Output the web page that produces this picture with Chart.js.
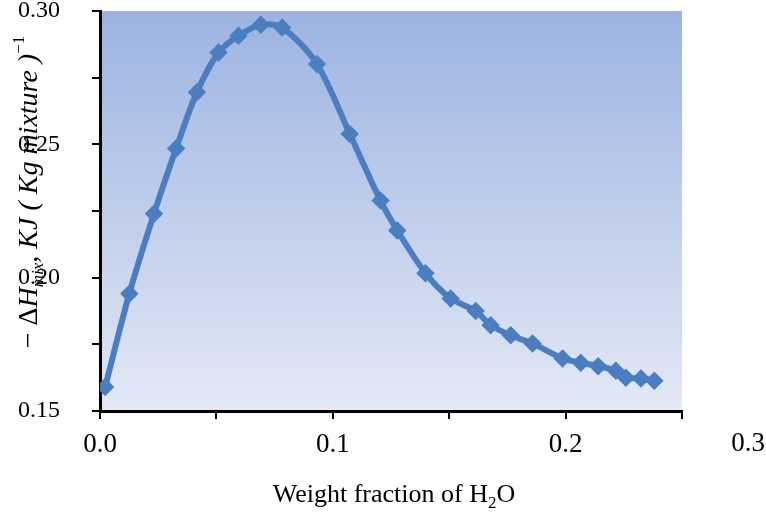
<!DOCTYPE html>
<html>
<head>
<meta charset="utf-8">
<script src="https://cdn.jsdelivr.net/npm/chart.js@4"></script>
<style>
  html, body { margin: 0; padding: 0; background: #fff; }
  #wrap { width: 766px; height: 515px; }
</style>
</head>
<body>
<div id="wrap"><canvas id="chart" width="766" height="515"></canvas></div>
<script>
// Data
const waterFraction = [0.0022, 0.0126, 0.0232, 0.0327, 0.0416, 0.0509, 0.0595, 0.0691, 0.0782, 0.0932,
  0.1073, 0.1205, 0.1277, 0.1398, 0.1506, 0.1614, 0.1678, 0.1764, 0.1858, 0.1987,
  0.2065, 0.2140, 0.2216, 0.2259, 0.2324, 0.2381];
const heatOfMixing = [0.159, 0.194, 0.224, 0.2484, 0.2695, 0.2844, 0.2907, 0.2948, 0.2938, 0.2801,
  0.2539, 0.2289, 0.2177, 0.2017, 0.1922, 0.1875, 0.1822, 0.1784, 0.1753, 0.1697,
  0.1681, 0.1668, 0.1651, 0.1625, 0.1622, 0.1613];
const xTickLabels = ['0.0', '0.1', '0.2'];
const yTickLabels = ['0.15', '0.20', '0.25', '0.30'];
const extraXLabel = '0.3';

const points = waterFraction.map((x, i) => ({ x: x, y: heatOfMixing[i] }));
const serif = "'Liberation Serif', 'Times New Roman', serif";

// gradient background of the plot area + titles
const decor = {
  id: 'decor',
  beforeDraw(chart) {
    const { ctx, chartArea: a } = chart;
    const g = ctx.createLinearGradient(0, a.top, 0, a.bottom);
    g.addColorStop(0, '#9cb3e1');
    g.addColorStop(0.45, '#bccbea');
    g.addColorStop(1, '#e3e9f5');
    ctx.save();
    ctx.fillStyle = g;
    ctx.fillRect(a.left, a.top, a.right - a.left, a.bottom - a.top);
    ctx.restore();
  },
  afterDraw(chart) {
    const ctx = chart.ctx;
    ctx.save();
    ctx.fillStyle = '#000';

    // stray 0.3 label past the end of the axis
    ctx.font = '27px ' + serif;
    ctx.textAlign = 'center';
    ctx.textBaseline = 'middle';
    ctx.fillText(extraXLabel, 748, 444);

    // x title with subscript
    const big = '26px ' + serif, small = '17px ' + serif;
    const parts = [['Weight fraction of H', big, 0], ['2', small, 6], ['O', big, 0]];
    let w = 0;
    parts.forEach(p => { ctx.font = p[1]; w += ctx.measureText(p[0]).width; });
    let x = 394 - w / 2;
    ctx.textAlign = 'left';
    ctx.textBaseline = 'alphabetic';
    parts.forEach(p => { ctx.font = p[1]; ctx.fillText(p[0], x, 502 + p[2]); x += ctx.measureText(p[0]).width; });

    // y title, rotated, with sub/superscripts
    const it = 'italic 28px ' + serif, itSmall = 'italic 17px ' + serif, up = '28px ' + serif;
    const yParts = [['\u2212 \u0394', up, 0], ['H', it, 0], ['mix', itSmall, 6], [', KJ ( Kg mixture )', it, 0], ['\u22121', '17px ' + serif, -13]];
    w = 0;
    yParts.forEach(p => { ctx.font = p[1]; w += ctx.measureText(p[0]).width; });
    ctx.translate(37, 192);
    ctx.rotate(-Math.PI / 2);
    x = -w / 2;
    yParts.forEach(p => { ctx.font = p[1]; ctx.fillText(p[0], x, p[2]); x += ctx.measureText(p[0]).width; });
    ctx.restore();
  }
};

new Chart(document.getElementById('chart'), {
  type: 'line',
  data: {
    datasets: [{
      data: points,
      borderColor: '#4a7ec0',
      backgroundColor: '#4a7ec0',
      borderWidth: 6,
      pointStyle: 'rectRot',
      pointRadius: 5,
      tension: 0.3
    }]
  },
  options: {
    responsive: false,
    animation: false,
    layout: { padding: { top: 10, right: 84, left: 0, bottom: 0 } },
    plugins: { legend: { display: false }, tooltip: { enabled: false } },
    scales: {
      x: {
        type: 'linear',
        min: 0,
        max: 0.25,
        afterFit(s) { s.height = 104; s.paddingLeft = 0; s.paddingRight = 0; },
        border: { display: true, color: '#000', width: 3 },
        grid: { drawOnChartArea: false, color: '#000', lineWidth: 2, tickLength: 8 },
        ticks: {
          stepSize: 0.05,
          color: '#000',
          padding: 10,
          maxRotation: 0,
          font: { family: serif, size: 27 },
          callback: v => {
            const i = Math.round(v * 10);
            return Math.abs(v * 10 - i) < 1e-6 ? xTickLabels[i] : '';
          }
        }
      },
      y: {
        min: 0.15,
        max: 0.30,
        afterFit(s) { s.width = 100; s.paddingTop = 0; s.paddingBottom = 0; },
        border: { display: true, color: '#000', width: 3 },
        grid: { drawOnChartArea: false, color: '#000', lineWidth: 2, tickLength: 8 },
        ticks: {
          stepSize: 0.025,
          color: '#000',
          padding: 32,
          font: { family: serif, size: 24 },
          callback: v => {
            const i = Math.round((v - 0.15) / 0.05);
            return Math.abs((v - 0.15) / 0.05 - i) < 1e-6 ? yTickLabels[i] : '';
          }
        }
      }
    }
  },
  plugins: [decor]
});
</script>
</body>
</html>
